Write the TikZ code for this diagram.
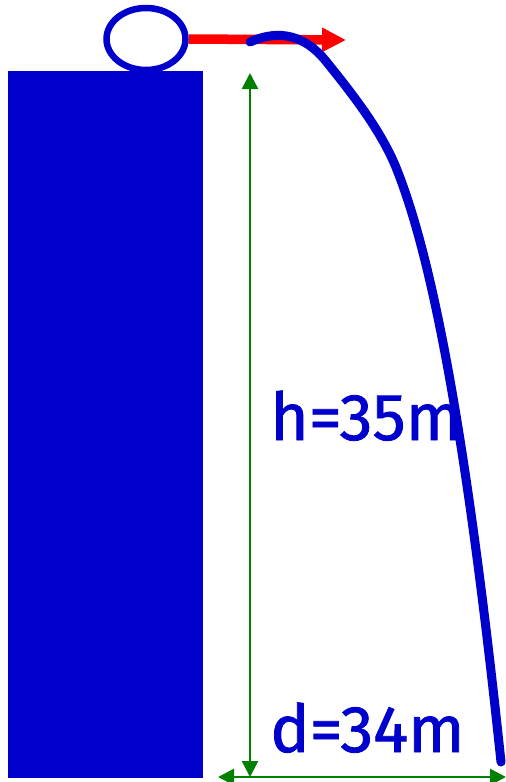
\documentclass[tikz,border=0pt]{standalone}
\usepackage{fontspec}
\setmainfont{Fira Sans}
\newfontfamily\labelfont{Fira Sans}[FakeBold=1.2]
\usetikzlibrary{arrows.meta,shapes.geometric}
\definecolor{darkblue}{RGB}{0,0,204}
\definecolor{dimgreen}{RGB}{0,128,0}
\begin{document}
\begin{tikzpicture}[x=1pt, y=-1pt,
    measure/.style={draw=dimgreen, line width=2.5pt, {Triangle[length=16pt,width=16pt]}-{Triangle[length=16pt,width=16pt]}},
    label/.style={text=darkblue, font=\labelfont\fontsize{66}{70}\selectfont, inner sep=0pt, anchor=base west}]
  \useasboundingbox (0,0) rectangle (506,782);

  % Edificio
  \node[fill=darkblue, draw=none, minimum width=195pt, minimum height=707pt, inner sep=0pt, anchor=north west] (tower) at (8,71) {};

  % Pelota
  \node[ellipse, draw=darkblue, line width=6.5pt, minimum width=79pt, minimum height=62pt, inner sep=0pt] (ball) at (146,39) {};

  % Velocidad inicial
  \coordinate (vtip) at (346,40);
  \draw[red, line width=9.5pt, -{Triangle[length=24pt,width=23pt]}] (ball.east) -- (vtip);

  % Trayectoria
  \coordinate (p0) at (250,42);
  \coordinate (p1) at (325,60);
  \coordinate (p2) at (395,165);
  \coordinate (p3) at (501,762);
  \draw[darkblue, line width=9pt, line cap=round]
    (p0) .. controls (272,32) and (300,30) .. (p1)
         .. controls (355,97) and (380,130) .. (p2)
         .. controls (430,250) and (465,420) .. (p3);

  % Cotas
  \coordinate (htop) at (250,73);
  \coordinate (hbot) at (250,777);
  \coordinate (dleft) at (218,777);
  \coordinate (dright) at (506,777);
  \draw[measure] (htop) -- (hbot);
  \draw[measure] (dleft) -- (dright);

  % Etiquetas
  \node[label] (hlabel) at (270,440) {h=35m};
  \node[label] (dlabel) at (270,752) {d=34m};
\end{tikzpicture}
\end{document}
